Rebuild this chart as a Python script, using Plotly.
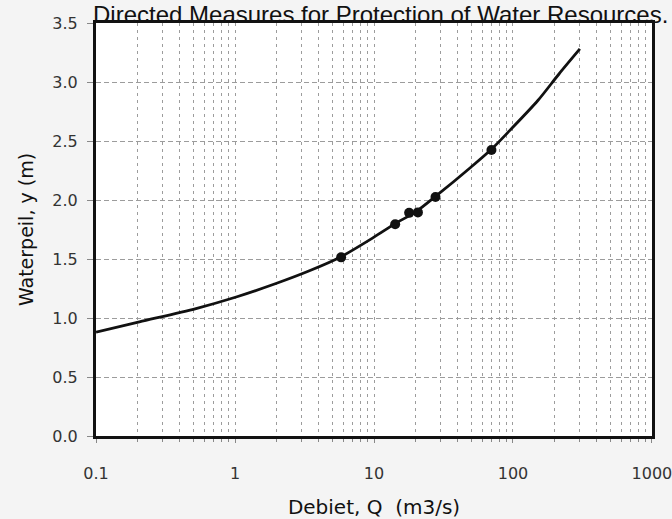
import plotly.graph_objects as go

# Rating curve
curve_q = [0.1, 0.205, 0.524, 1.02, 1.97, 3.43, 5.7, 10, 14.2, 20, 27.7, 50, 70, 95, 151, 215, 303]
curve_y = [0.88, 0.967, 1.08, 1.178, 1.292, 1.40, 1.515, 1.685, 1.80, 1.90, 2.03, 2.28, 2.43, 2.59, 2.843, 3.07, 3.28]

# Measured points
meas_q = [5.8, 14.2, 17.9, 20.7, 27.7, 70]
meas_y = [1.514, 1.794, 1.891, 1.895, 2.025, 2.424]

x_tickvals = [0.1, 1, 10, 100, 1000]
x_ticktext = ["0.1", "1", "10", "100", "1000"]
y_tickvals = [0.0, 0.5, 1.0, 1.5, 2.0, 2.5, 3.0, 3.5]
y_ticktext = ["0.0", "0.5", "1.0", "1.5", "2.0", "2.5", "3.0", "3.5"]

title_text = "Directed Measures for Protection of Water Resources."
x_title = "Debiet, Q  (m3/s)"
y_title = "Waterpeil, y (m)"

fig = go.Figure()
fig.add_trace(go.Scatter(x=curve_q, y=curve_y, mode="lines",
                         line=dict(color="#111111", width=2.8, shape="spline", smoothing=0.8),
                         hoverinfo="skip", showlegend=False))
fig.add_trace(go.Scatter(x=meas_q, y=meas_y, mode="markers",
                         marker=dict(color="#111111", size=10, symbol="circle"),
                         showlegend=False))

grid_col = "#9c9c9c"
tick_font = dict(family="DejaVu Sans", size=16, color="#333333")

fig.update_xaxes(type="log", range=[-1.0004, 3.0004],
                 tickvals=x_tickvals, ticktext=x_ticktext,
                 showline=True, mirror=True, linewidth=3, linecolor="#111111",
                 showgrid=True, gridcolor=grid_col, gridwidth=1, griddash="3px,4px",
                 ticks="outside", ticklen=4, tickcolor="#888888",
                 ticklabelstandoff=17, ticklabeloverflow="allow",
                 tickfont=tick_font, automargin=False,
                 minor=dict(dtick="D1", showgrid=True, gridcolor=grid_col, gridwidth=1,
                            griddash="3px,4px", ticks="outside", ticklen=3, tickcolor="#888888"),
                 zeroline=False,
                 title=dict(text=x_title, font=dict(family="DejaVu Sans", size=20, color="#111111"), standoff=18))
fig.update_yaxes(range=[0, 3.5], tickvals=y_tickvals, ticktext=y_ticktext,
                 showline=True, mirror=True, linewidth=3, linecolor="#111111",
                 showgrid=True, gridcolor=grid_col, gridwidth=1, griddash="5px,3px",
                 ticks="outside", ticklen=6, tickcolor="#888888",
                 ticklabelstandoff=6, tickfont=tick_font, zeroline=False, automargin=False,
                 title=dict(text=y_title, font=dict(family="DejaVu Sans", size=19, color="#111111"), standoff=14))

fig.add_annotation(text=title_text, xref="paper", yref="paper", x=0.511, y=1.058,
                   xanchor="center", yanchor="top", showarrow=False,
                   font=dict(family="Liberation Sans", size=24, color="#111111"))

fig.update_layout(width=672, height=519,
                  margin=dict(l=96, r=20, t=23, b=83),
                  paper_bgcolor="#f4f4f4", plot_bgcolor="#ffffff")

fig.write_html("out.html", config={"displayModeBar": False},
               post_script="document.body.style.margin='0';document.body.style.overflow='hidden';")
